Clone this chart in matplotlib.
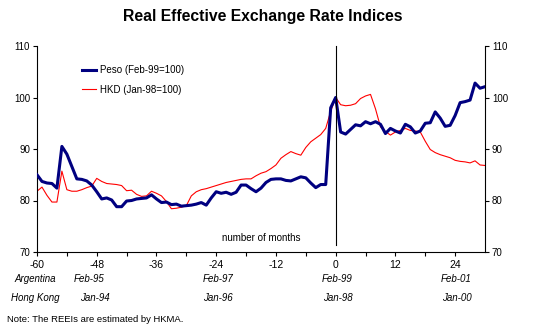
import matplotlib
matplotlib.use("Agg")
import matplotlib.pyplot as plt
import numpy as np

plt.rcParams['font.family'] = ['Liberation Sans', 'DejaVu Sans']
plt.rcParams['axes.unicode_minus'] = False

# months relative to the peg reference point
months = np.arange(-60, 31)

# Peso (Feb-99=100)
peso = [85.0, 83.7, 83.4, 83.3, 82.4, 90.5, 89.0, 86.6, 84.2, 84.1,
        83.8, 83.0, 81.7, 80.3, 80.5, 80.1, 78.8, 78.8, 79.9, 80.0,
        80.3, 80.4, 80.5, 81.1, 80.3, 79.6, 79.7, 79.2, 79.3, 78.9,
        79.0, 79.1, 79.3, 79.6, 79.1, 80.5, 81.7, 81.4, 81.6, 81.2,
        81.6, 83.0, 83.0, 82.3, 81.7, 82.4, 83.5, 84.1, 84.2, 84.2,
        83.9, 83.8, 84.2, 84.6, 84.4, 83.4, 82.5, 83.1, 83.1, 98.0,
        100.0, 93.3, 92.9, 93.8, 94.7, 94.5, 95.3, 94.9, 95.3, 94.8,
        93.0, 94.0, 93.5, 93.1, 94.8, 94.3, 93.1, 93.5, 95.0, 95.1,
        97.2, 96.0, 94.4, 94.6, 96.5, 99.0, 99.2, 99.5, 102.8, 101.8,
        102.1]

# HKD (Jan-98=100)
hkd = [81.8, 82.6, 81.0, 79.7, 79.7, 85.7, 82.1, 81.8, 81.8, 82.1,
       82.5, 82.8, 84.3, 83.7, 83.3, 83.2, 83.1, 82.9, 81.9, 82.0,
       81.2, 80.8, 80.9, 81.8, 81.4, 80.9, 79.8, 78.4, 78.5, 78.7,
       79.0, 80.9, 81.7, 82.1, 82.3, 82.6, 82.9, 83.2, 83.5, 83.7,
       83.9, 84.1, 84.2, 84.2, 84.8, 85.3, 85.6, 86.2, 86.9, 88.2,
       88.9, 89.5, 89.1, 88.8, 90.3, 91.4, 92.1, 92.8, 94.0, 97.3,
       100.0, 98.6, 98.4, 98.5, 98.8, 99.8, 100.3, 100.6, 97.8, 94.3,
       93.4, 92.7, 93.3, 93.6, 94.0, 93.6, 93.5, 93.3, 91.5, 89.9,
       89.3, 88.9, 88.6, 88.3, 87.8, 87.6, 87.5, 87.3, 87.7, 86.9,
       86.8]

xticks = [-60, -48, -36, -24, -12, 0, 12, 24]
arg_labels = ['Feb-95', 'Feb-97', 'Feb-99', 'Feb-01']
hk_labels = ['Jan-94', 'Jan-96', 'Jan-98', 'Jan-00']
arg_pos = [-49.6, -23.8, 0, 23.8]
hk_pos = [-48.4, -23.8, 0.2, 23.9]

W, H = 533, 327
fig = plt.figure(figsize=(W / 100, H / 100), dpi=100)
ax = fig.add_axes([37 / W, 1 - 252 / H, (485 - 37) / W, (252 - 46) / H])

ax.plot(months, hkd, color='#ff0000', linewidth=0.8, label='HKD (Jan-98=100)', zorder=2)
ax.plot(months, peso, color='#000080', linewidth=2.2, label='Peso (Feb-99=100)', zorder=3)
ax.plot([0, 0], [71.3, 110], color='black', linewidth=0.8, zorder=4, clip_on=False)

ax.set_xlim(-60, 30)
ax.set_ylim(70, 110)
ax.set_yticks([70, 80, 90, 100, 110])
ax.set_xticks(xticks)
ax.set_xticks(np.arange(-54, 30, 12), minor=True)
ax.spines['top'].set_visible(False)
for s in ['left', 'right', 'bottom']:
    ax.spines[s].set_linewidth(0.8)
ax.tick_params(axis='y', direction='out', length=3, width=0.8, labelsize=7,
               right=True, labelright=True, pad=2)
ax.tick_params(axis='x', which='both', direction='out', length=3, width=0.8,
               labelsize=7.5, pad=3)

h, l = ax.get_legend_handles_labels()
ax.legend(h[::-1], l[::-1], loc='upper left', bbox_to_anchor=(0.08, 0.95),
          frameon=False, fontsize=7, handlelength=1.5, labelspacing=1.0,
          handletextpad=0.4)

ax.text(-15, 72.8, 'number of months', fontsize=7, ha='center', va='center')

fig.text(263 / W, 1 - 17 / H, 'Real Effective Exchange Rate Indices',
         fontsize=11.3, fontweight='bold', ha='center', va='center')

def px(x, y):
    return x / W, 1 - y / H

fig.text(*px(35, 279), 'Argentina', fontsize=7, style='italic', ha='center', va='center')
fig.text(*px(35, 298), 'Hong Kong', fontsize=7, style='italic', ha='center', va='center')
for m, a in zip(arg_pos, arg_labels):
    fig.text(*px(337 + 5 * m, 279), a, fontsize=7, style='italic', ha='center', va='center')
for m, k in zip(hk_pos, hk_labels):
    fig.text(*px(337 + 5 * m, 298), k, fontsize=7, style='italic', ha='center', va='center')

fig.text(*px(7, 320), 'Note: The REEIs are estimated by HKMA.', fontsize=6.8,
         ha='left', va='center')

fig.savefig('out.png', dpi=100)
